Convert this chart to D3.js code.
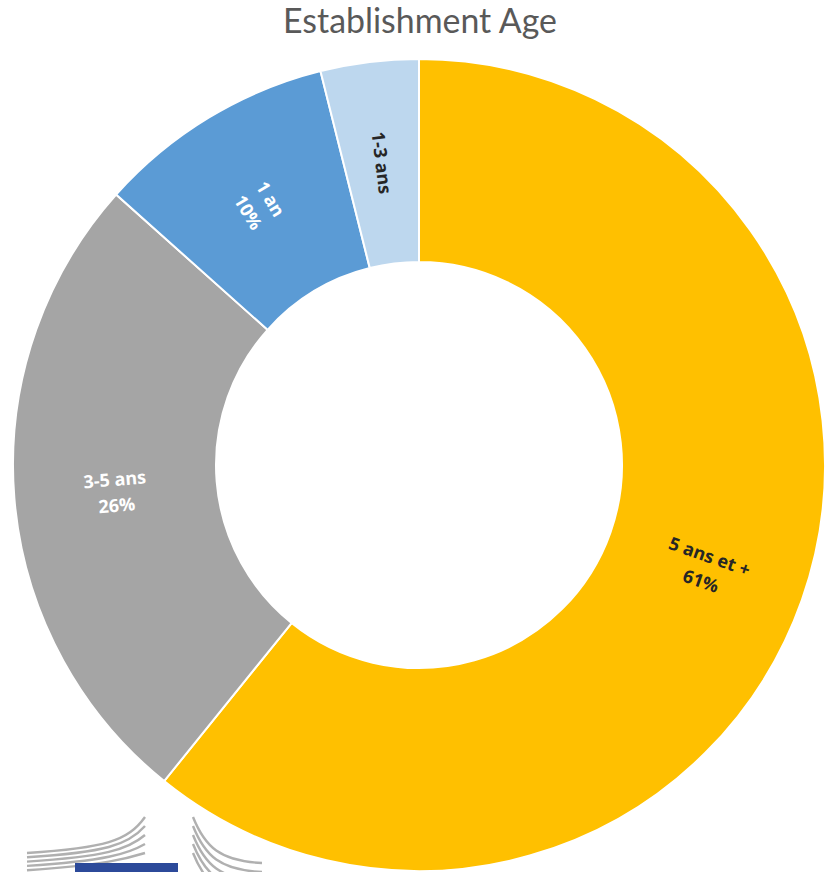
<!DOCTYPE html>
<html><head><meta charset="utf-8">
<script src="https://cdn.jsdelivr.net/npm/d3@7"></script>
<style>html,body{margin:0;padding:0;background:#fff;}svg{display:block;}</style>
</head><body>
<svg id="chart" width="826" height="872"></svg>
<script>
const categories = ["5 ans et +", "3-5 ans", "1 an", "1-3 ans"];
const values = [60.8, 25.8, 9.5, 3.9];
const percentLabels = ["61%", "26%", "10%", ""];
const colors = ["#FFC000", "#A5A5A5", "#5B9BD5", "#BDD7EE"];
const textColors = ["#262626", "#FFFFFF", "#FFFFFF", "#262626"];
const title = "Establishment Age";

const W = 826, H = 872;
const cx = 419, cy = 465, rOuter = 406, rInner = 203;
const svg = d3.select("#chart");

// logo fragment (bottom-left)
const logo = svg.append("g");
for (let i = 0; i < 5; i++) {
  const yl = 853 + i * 4.3, yr = 817 + i * 9;
  logo.append("path")
    .attr("d", `M27,${yl} C105,${yl - 5} 128,${yl - 12} 145,${yr}`)
    .attr("fill", "none").attr("stroke", "#b0b0b0").attr("stroke-width", 2.4);
  const ys = 817 + i * 9;
  logo.append("path")
    .attr("d", `M193,${ys} C205,${ys + 30} 220,${ys + 44} 262,${ys + 46}`)
    .attr("fill", "none").attr("stroke", "#b0b0b0").attr("stroke-width", 2.4);
}
logo.append("rect").attr("x", 75).attr("y", 863).attr("width", 103).attr("height", 12).attr("fill", "#2c4a9a");

const data = categories.map((c, i) => ({ cat: c, value: values[i], pct: percentLabels[i], color: colors[i], tc: textColors[i] }));
const pie = d3.pie().value(d => d.value).sort(null);
const arcs = pie(data);
const arc = d3.arc().innerRadius(rInner).outerRadius(rOuter);

const g = svg.append("g").attr("transform", `translate(${cx},${cy})`);
g.selectAll("path.slice").data(arcs).join("path")
  .attr("class", "slice")
  .attr("d", arc)
  .attr("fill", d => d.data.color)
  .attr("stroke", "#fff").attr("stroke-width", 2);

const labels = g.selectAll("g.lbl").data(arcs).join("g").attr("class", "lbl")
  .attr("transform", d => {
    const [x, y] = arc.centroid(d);
    const mid = (d.startAngle + d.endAngle) / 2 * 180 / Math.PI;
    let rot = mid - 90;
    while (rot > 90) rot -= 180;
    while (rot < -90) rot += 180;
    return `translate(${x},${y}) rotate(${rot})`;
  });
labels.each(function (d) {
  const t = d3.select(this).append("text")
    .attr("text-anchor", "middle")
    .attr("font-family", "'Open Sans', Lato, sans-serif")
    .attr("font-weight", "bold").attr("font-size", 18)
    .attr("fill", d.data.tc);
  if (d.data.pct) {
    t.append("tspan").attr("x", 0).attr("y", -4).text(d.data.cat);
    t.append("tspan").attr("x", 0).attr("y", 22).text(d.data.pct);
  } else {
    t.append("tspan").attr("x", 0).attr("y", 6.5).text(d.data.cat);
  }
});

const tt = svg.append("text").attr("x", 420).attr("y", 33)
  .attr("text-anchor", "middle")
  .attr("font-family", "Lato, 'Open Sans', sans-serif")
  .attr("font-size", 31).attr("fill", "#595959").text(title);
const w = tt.node().getComputedTextLength();
tt.attr("font-size", 31 * 274 / w);
</script>
</body></html>
